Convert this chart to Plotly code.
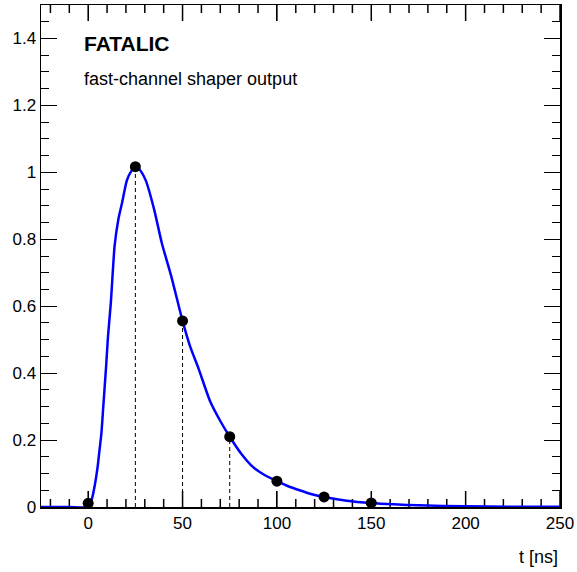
import plotly.graph_objects as go

# Shaper output curve
curve_t = [-25, -10, 0, 1, 2, 3.5, 5, 6, 7, 8, 9.5, 10.5, 12, 14, 16, 18, 20.5, 23, 25, 27, 30.5, 35, 39, 44,
           50, 54, 58.4, 64.6, 70, 75, 81, 87.4, 93, 100, 106, 112, 118, 125, 137, 150, 162, 175, 200, 225, 250]
curve_v = [0, 0, 0, 0.01, 0.025, 0.065, 0.12, 0.17, 0.22, 0.30, 0.42, 0.51, 0.61, 0.78, 0.86, 0.91, 0.976,
           1.005, 1.018, 1.01, 0.976, 0.888, 0.789, 0.69, 0.556, 0.48, 0.415, 0.316, 0.257, 0.21, 0.16,
           0.119, 0.097, 0.077, 0.062, 0.05, 0.039, 0.030, 0.019, 0.012, 0.008, 0.005, 0.002, 0.001, 0.0005]

# Samples
sample_t = [0, 25, 50, 75, 100, 125, 150]
sample_v = [0.011, 1.017, 0.556, 0.21, 0.077, 0.030, 0.012]
dashed_idx = [1, 2, 3]

x_ticks = [0, 50, 100, 150, 200, 250]
y_ticks = [0, 0.2, 0.4, 0.6, 0.8, 1.0, 1.2, 1.4]
x_minor_step = 10
y_minor_step = 0.05
x_range = [-25, 250]
y_range = [0, 1.5]

FONT = "Liberation Sans, Arial, Helvetica, sans-serif"
MAJOR_LEN = 16
MINOR_LEN = 8
W, H = 577, 572
MARGIN = dict(l=41, r=15, t=3, b=65)
plot_h = H - MARGIN["t"] - MARGIN["b"]
px_to_y = (y_range[1] - y_range[0]) / plot_h

fig = go.Figure()

for i in dashed_idx:
    fig.add_trace(go.Scatter(x=[sample_t[i], sample_t[i]], y=[0, sample_v[i]], mode="lines",
                             line=dict(color="black", width=1, dash="4px,3px"),
                             showlegend=False, hoverinfo="skip"))

# x-axis tick marks (bottom and mirrored top) as one line trace through the axis scales
first_minor = -(-x_range[0] // x_minor_step) * x_minor_step
tick_x, tick_y = [], []
v = first_minor
while v <= x_range[1]:
    length = (MAJOR_LEN if v in x_ticks else MINOR_LEN) * px_to_y
    tick_x += [v, v, None, v, v, None]
    tick_y += [y_range[0], y_range[0] + length, None, y_range[1], y_range[1] - length, None]
    v += x_minor_step
fig.add_trace(go.Scatter(x=tick_x, y=tick_y, mode="lines", line=dict(color="black", width=1.5),
                         showlegend=False, hoverinfo="skip", cliponaxis=False, connectgaps=False))

fig.add_trace(go.Scatter(x=curve_t, y=curve_v, mode="lines",
                         line=dict(color="#0000ff", width=2.5, shape="spline", smoothing=0.6),
                         showlegend=False, hoverinfo="skip"))

fig.add_trace(go.Scatter(x=sample_t, y=sample_v, mode="markers",
                         marker=dict(color="black", size=11), showlegend=False, hoverinfo="skip"))

axis_common = dict(showgrid=False, zeroline=False, showline=True, linecolor="black", linewidth=1.5,
                   mirror="allticks", ticks="inside", ticklen=MAJOR_LEN, tickcolor="black",
                   tickmode="linear", layer="above traces",
                   tickfont=dict(family=FONT, size=17, color="black"))

fig.update_layout(
    xaxis=dict(range=x_range, tick0=x_ticks[0], dtick=x_ticks[1] - x_ticks[0], tickwidth=1,
               **axis_common),
    yaxis=dict(range=y_range, tick0=y_ticks[0], dtick=y_ticks[1] - y_ticks[0], tickwidth=1,
               minor=dict(dtick=y_minor_step, tick0=0, ticks="inside", ticklen=MINOR_LEN,
                          tickcolor="black", tickwidth=1, showgrid=False),
               **axis_common),
)

fig.add_annotation(xref="paper", yref="paper", x=0.0787, y=0.9226, text="<b>FATALIC</b>",
                   showarrow=False, xanchor="left", yanchor="middle",
                   font=dict(family=FONT, size=21, color="black"))
fig.add_annotation(xref="paper", yref="paper", x=0.0787, y=0.853, text="fast-channel shaper output",
                   showarrow=False, xanchor="left", yanchor="middle",
                   font=dict(family=FONT, size=18, color="black"))
fig.add_annotation(xref="paper", yref="paper", x=1.0, y=-0.099, text="t [ns]",
                   showarrow=False, xanchor="right", yanchor="middle",
                   font=dict(family=FONT, size=18, color="black"))

fig.update_layout(width=W, height=H, margin=MARGIN, paper_bgcolor="white", plot_bgcolor="white")

fig.write_html("out.html", config={"displayModeBar": False, "staticPlot": True})

with open("out.html", "r", encoding="utf-8") as f:
    html = f.read()
html = html.replace("<body>", '<body style="margin:0;padding:0;overflow:hidden">', 1)
with open("out.html", "w", encoding="utf-8") as f:
    f.write(html)
